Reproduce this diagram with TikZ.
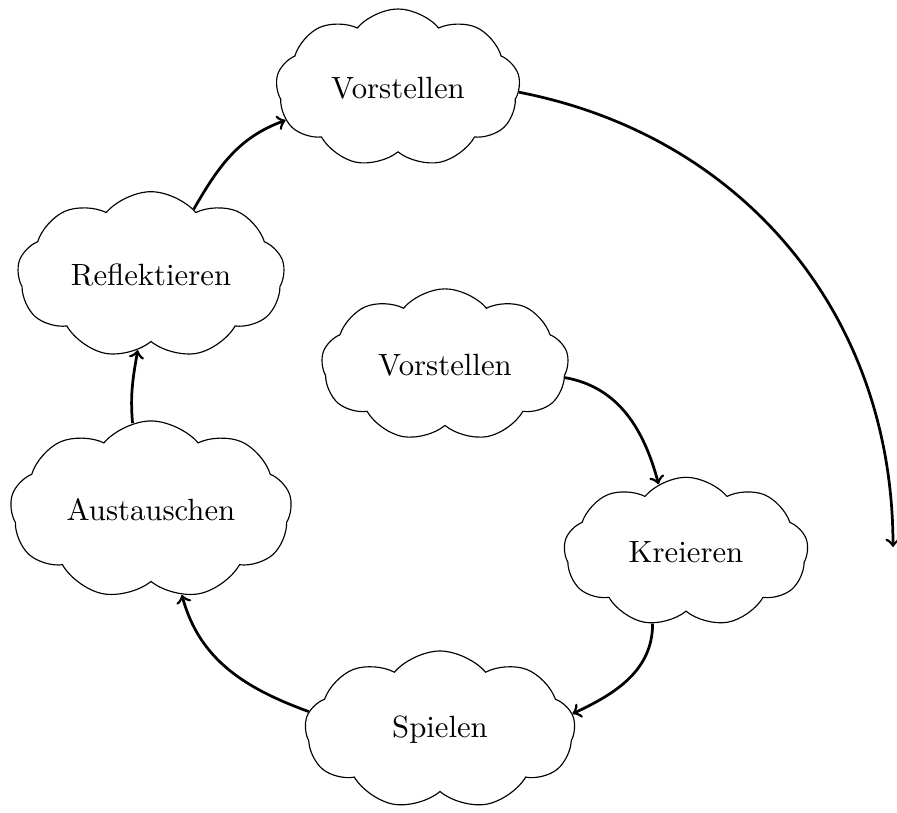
\documentclass[tikz,border=0pt]{standalone}
\usetikzlibrary{shapes.symbols}
\begin{document}
\begin{tikzpicture}[x=0.348pt,y=-0.348pt,
  cl/.style={cloud, draw, cloud puffs=9, cloud puff arc=100, cloud ignores aspect, inner sep=0pt, font=\fontsize{10.7}{13}\selectfont},
  flow/.style={->, line width=0.95pt}]
\useasboundingbox (0,0) rectangle (897,812);
\node[cl, minimum width=85pt, minimum height=55pt] (v1) at (398,88) {Vorstellen};
\node[cl, minimum width=93pt, minimum height=58pt] (r) at (151,275) {Reflektieren};
\node[cl, minimum width=86pt, minimum height=53pt] (v2) at (445,365) {Vorstellen};
\node[cl, minimum width=98pt, minimum height=62pt] (a) at (151,510) {Austauschen};
\node[cl, minimum width=85pt, minimum height=52pt] (k) at (686,552) {Kreieren};
\node[cl, minimum width=94pt, minimum height=55pt] (s) at (440,730) {Spielen};
\coordinate (e) at (893,547);
\draw[flow] (v1.-2) to[out=-11, in=90] (e);
\draw[flow] (v2.-6) to[out=-10, in=105] (k.112);
\draw[flow] (k.245) to[out=-90, in=25] (s.7);
\draw[flow] (s.172) to[out=160, in=-75] (a.-70);
\draw[flow] (a.102) to[out=95, in=-100] (r.260);
\draw[flow] (r.57) to[out=60, in=200] (v1.196);
\end{tikzpicture}
\end{document}
